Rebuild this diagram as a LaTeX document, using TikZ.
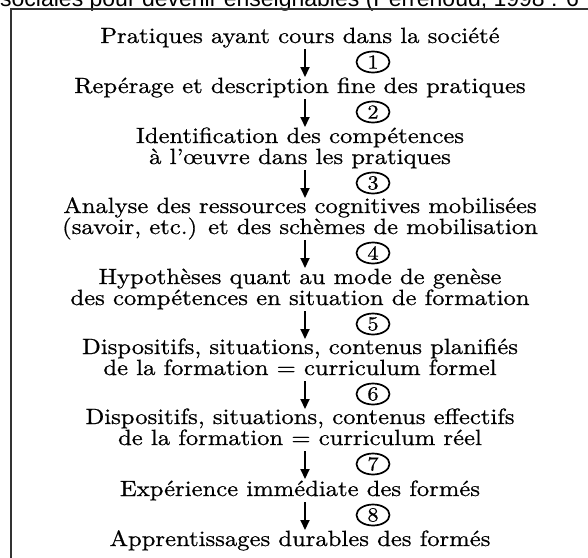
\documentclass[tikz,border=0pt]{standalone}
\usepackage{fontspec}
\newfontfamily\topfont{Liberation Sans}
\newfontfamily\mainf{lmroman10-regular.otf}[FakeStretch=1.12,FakeBold=0.7]
\usetikzlibrary{arrows.meta,shapes.geometric}
\begin{document}
\begin{tikzpicture}[x=1pt,y=-1pt,
  lbl/.style={font=\mainf\fontsize{22}{22}\selectfont, inner sep=0pt, anchor=base, text height=14pt, text depth=4pt},
  num/.style={draw, ellipse, line width=1.7pt, minimum width=33pt, minimum height=21pt, inner sep=0pt, font=\mainf\fontsize{20}{20}\selectfont},
  flow/.style={-{Triangle[length=10pt,width=9pt]}, line width=1.9pt},
  frame/.style={line width=2.5pt, draw=black!80}]
\useasboundingbox (0,0) rectangle (588,557);
\clip (0,0) rectangle (588,557);
\node[anchor=base west, inner sep=0pt, font=\topfont\fontsize{23}{23}\selectfont] (src) at (0,6) {sociales pour devenir enseignables (Perrenoud, 1998 : 6};
\draw[frame] (592,9) -- (11,9) -- (11,562);
\node[lbl] (t1) at (300,43) {Pratiques ayant cours dans la société};
\node[lbl] (t2) at (300,93) {Repérage et description fine des pratiques};
\node[lbl] (t3a) at (300,143) {Identification des compétences};
\node[lbl] (t3b) at (300,164) {à l’œuvre dans les pratiques};
\node[lbl] (t4a) at (300,213) {Analyse des ressources cognitives mobilisées};
\node[lbl] (t4b) at (300,234) {(savoir, etc.) et des schèmes de mobilisation};
\node[lbl] (t5a) at (300,284) {Hypothèses quant au mode de genèse};
\node[lbl] (t5b) at (300,305) {des compétences en situation de formation};
\node[lbl] (t6a) at (300,354) {Dispositifs, situations, contenus planifiés};
\node[lbl] (t6b) at (300,375) {de la formation = curriculum formel};
\node[lbl] (t7a) at (300,424) {Dispositifs, situations, contenus effectifs};
\node[lbl] (t7b) at (300,445) {de la formation = curriculum réel};
\node[lbl] (t8) at (300,496) {Expérience immédiate des formés};
\node[lbl] (t9) at (300,546) {Apprentissages durables des formés};
\foreach \i/\c in {1/62,2/112,3/183,4/253,5/324,6/394,7/464,8/515}{
  \node[num] (n\i) at (373,\c) {\i};
  \coordinate (as\i) at (305,\c-13);
  \coordinate (ae\i) at (305,\c+15);
  \draw[flow] (as\i) -- (ae\i);
}
\end{tikzpicture}
\end{document}
